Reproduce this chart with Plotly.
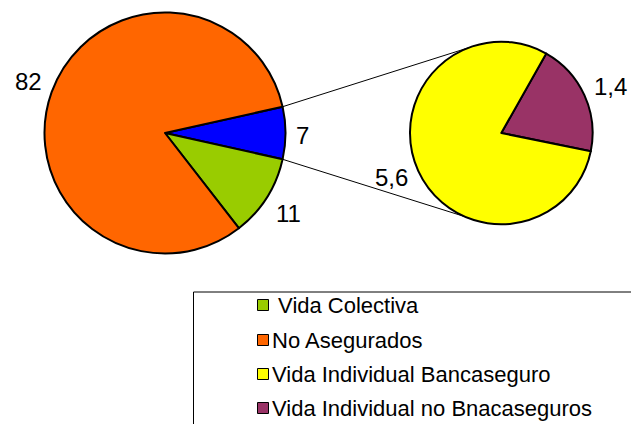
import math
import plotly.graph_objects as go

# ---------------- data ----------------
main_labels = ["Vida Individual", "Vida Colectiva", "No Asegurados"]
main_values = [7, 11, 82]
main_colors = ["#0000FF", "#99CC00", "#FF6600"]

sub_labels = ["Vida Individual no Bnacaseguros", "Vida Individual Bancaseguro"]
sub_values = [1.4, 5.6]
sub_colors = ["#993366", "#FFFF00"]

legend_labels = ["\u00a0Vida Colectiva", "No Asegurados",
                 "Vida Individual Bancaseguro", "Vida Individual no Bnacaseguros"]
legend_colors = ["#99CC00", "#FF6600", "#FFFF00", "#993366"]

# ---------------- geometry ----------------
W, H = 631, 424
FONT = "Liberation Sans, Arial, sans-serif"

L_c, L_r = (165.0, 133.0), 120.5
R_c, R_r = (501.3, 133.0), 91.3


def dom(c, r):
    return dict(x=[(c[0] - r) / W, (c[0] + r) / W],
                y=[1 - (c[1] + r) / H, 1 - (c[1] - r) / H])


def px(x, y):
    return x / W, 1 - y / H


main_rot = 90 - main_values[0] / sum(main_values) * 180
sub_rot = 29.5

fig = go.Figure()
fig.add_trace(go.Pie(labels=main_labels, values=main_values, sort=False,
                     direction="clockwise", rotation=main_rot,
                     marker=dict(colors=main_colors, line=dict(color="black", width=2)),
                     textinfo="none", hoverinfo="label+value", showlegend=False,
                     domain=dom(L_c, L_r)))
fig.add_trace(go.Pie(labels=sub_labels, values=sub_values, sort=False,
                     direction="clockwise", rotation=sub_rot,
                     marker=dict(colors=sub_colors, line=dict(color="black", width=2)),
                     textinfo="none", hoverinfo="label+value", showlegend=False,
                     domain=dom(R_c, R_r)))

annotations = []
shapes = []


def slice_labels(values, rot, c, r, gx, gy, dy, hh=8.5):
    total = sum(values)
    start = rot  # bearing clockwise from 12 o'clock
    for v in values:
        span = v / total * 360
        mid_bearing = start + span / 2
        th = math.radians(90 - mid_bearing)
        cs, sn = math.cos(th), math.sin(th)
        x = c[0] + (r + gx) * cs
        y = c[1] - (r + gy) * sn
        xa = "left" if cs > 0.25 else ("right" if cs < -0.25 else "center")
        if sn > 0.25:
            y -= hh
        elif sn < -0.25:
            y += hh
        y += dy
        xx, yy = px(x, y)
        annotations.append(dict(x=xx, y=yy, xref="paper", yref="paper",
                                text=f"{v:g}".replace(".", ","), showarrow=False,
                                xanchor=xa, yanchor="middle",
                                font=dict(family=FONT, size=24, color="black")))
        start += span


slice_labels(main_values, main_rot, L_c, L_r, 8.5, 11, 2)
slice_labels(sub_values, sub_rot, R_c, R_r, 8.5, -2, -1)

# connector lines between pies
half = main_values[0] / sum(main_values) * 180
for a_main, a_sub in [(half, 111), (-half, -114)]:
    t1, t2 = math.radians(a_main), math.radians(a_sub)
    x0, y0 = px(L_c[0] + L_r * math.cos(t1), L_c[1] - L_r * math.sin(t1))
    x1, y1 = px(R_c[0] + R_r * math.cos(t2), R_c[1] - R_r * math.sin(t2))
    shapes.append(dict(type="line", xref="paper", yref="paper", x0=x0, y0=y0, x1=x1, y1=y1,
                       line=dict(color="black", width=1), layer="below"))

# legend box
bx0, by0 = px(193.5, 292)
bx1, by1 = px(W + 10, H + 10)
shapes.append(dict(type="rect", xref="paper", yref="paper", x0=bx0, y0=by0, x1=bx1, y1=by1,
                   line=dict(color="black", width=1), fillcolor="rgba(0,0,0,0)"))
row_y = [305, 340, 374, 408]
for lab, col, ry in zip(legend_labels, legend_colors, row_y):
    sx0, sy0 = px(257.5, ry - 5.5)
    sx1, sy1 = px(268.5, ry + 5.5)
    shapes.append(dict(type="rect", xref="paper", yref="paper", x0=sx0, y0=sy0, x1=sx1, y1=sy1,
                       line=dict(color="black", width=1), fillcolor=col))
    tx, ty = px(270, ry)
    annotations.append(dict(x=tx, y=ty, xref="paper", yref="paper", text=lab, showarrow=False,
                            xanchor="left", yanchor="middle",
                            font=dict(family=FONT, size=22, color="black")))

fig.update_layout(width=W, height=H, margin=dict(l=0, r=0, t=0, b=0),
                  paper_bgcolor="white", plot_bgcolor="white",
                  annotations=annotations, shapes=shapes, showlegend=False)

fig.write_html("out.html")
